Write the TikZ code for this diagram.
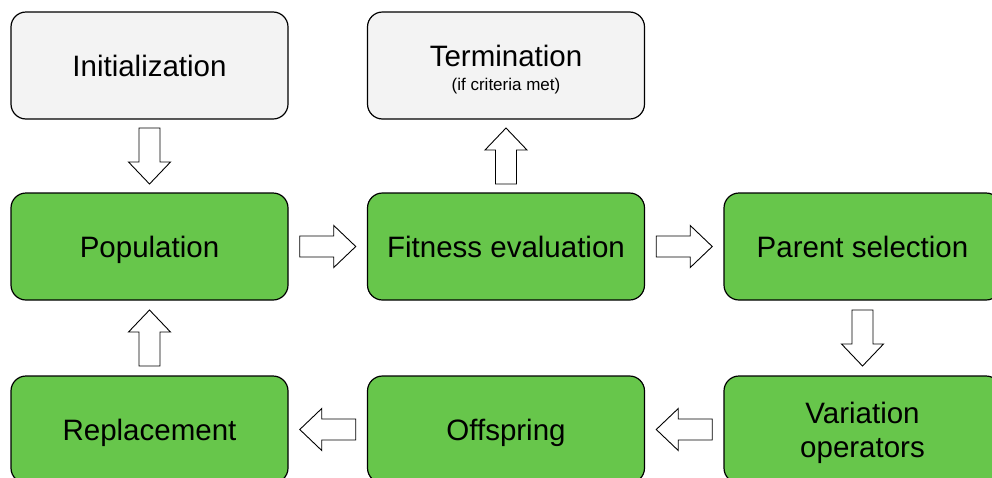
\documentclass[tikz,border=0pt]{standalone}
\usepackage{fontspec}
\setmainfont{Liberation Sans}
\usetikzlibrary{calc}
\definecolor{boxgreen}{RGB}{103,198,75}
\definecolor{boxgray}{RGB}{243,243,243}
\begin{document}
\begin{tikzpicture}[x=1pt,y=-1pt,
  stage/.style={draw=black, line width=1.2pt, rounded corners=15pt, minimum width=277pt, minimum height=107pt, inner sep=0pt, font=\fontsize{29.5}{34}\selectfont, text height=21.1pt, text depth=0pt},
  greenbox/.style={stage, fill=boxgreen},
  graybox/.style={stage, fill=boxgray},
  pics/blockarrow/.style={code={\draw[fill=white, line width=0.9pt, line join=miter] (-28,-10.5) -- (6,-10.5) -- (6,-21) -- (28,0) -- (6,21) -- (6,10.5) -- (-28,10.5) -- cycle;}}
]
\useasboundingbox (0,0) rectangle (992,477);
\clip (0,0) rectangle (992,477);
\node[graybox] (init) at (149.5,65.5) {Initialization};
\node[graybox, text depth=20pt] (term) at (506,65.5) {\begin{tabular}[t]{@{}c@{}}Termination\\[-10pt]{\fontsize{17}{19}\selectfont (if criteria met)}\end{tabular}};
\node[greenbox] (pop) at (149.5,246.5) {Population};
\node[greenbox] (fit) at (506,246.5) {Fitness evaluation};
\node[greenbox] (par) at (862.5,246.5) {Parent selection};
\node[greenbox] (rep) at (149.5,429.5) {Replacement};
\node[greenbox] (off) at (506,429.5) {Offspring};
\node[greenbox, text depth=34pt] (var) at (862.5,429.5) {\begin{tabular}[t]{@{}c@{}}Variation\\operators\end{tabular}};
\pic[rotate=-90] at ($(init.south)!0.5!(pop.north)$) {blockarrow};
\pic[rotate=90] at ($(fit.north)!0.5!(term.south)$) {blockarrow};
\pic at ($(pop.east)!0.5!(fit.west)$) {blockarrow};
\pic at ($(fit.east)!0.5!(par.west)$) {blockarrow};
\pic[rotate=-90] at ($(par.south)!0.5!(var.north)$) {blockarrow};
\pic[rotate=180] at ($(var.west)!0.5!(off.east)$) {blockarrow};
\pic[rotate=180] at ($(off.west)!0.5!(rep.east)$) {blockarrow};
\pic[rotate=90] at ($(rep.north)!0.5!(pop.south)$) {blockarrow};
\end{tikzpicture}
\end{document}
